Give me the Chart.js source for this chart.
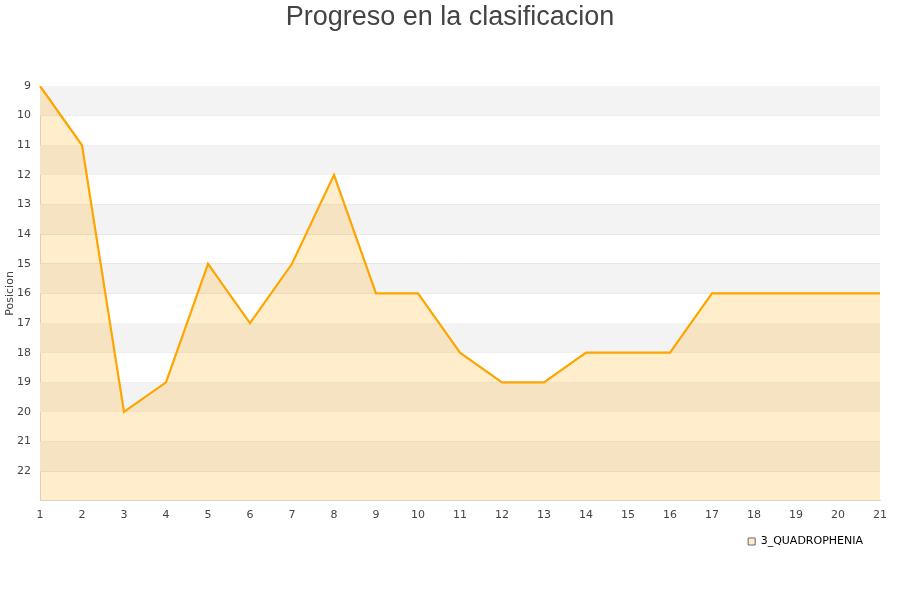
<!DOCTYPE html>
<html lang="es">
<head>
    <meta charset="UTF-8">
    <script src="https://cdn.jsdelivr.net/npm/chart.js"></script>
    <title>Progreso en la clasificacion</title>
    <style>
        body {
            margin: 0;
            background-color: #fff;
        }

        #wrap {
            width: 900px;
            height: 600px;
        }
    </style>
</head>
<body>
    <div id="wrap">
        <canvas id="progresoChart" width="900" height="600"></canvas>
    </div>

    <script>
        // Datos
        const jornadas = ['1', '2', '3', '4', '5', '6', '7', '8', '9', '10', '11',
                          '12', '13', '14', '15', '16', '17', '18', '19', '20', '21'];
        const posiciones = [9, 11, 20, 19, 15, 17, 15, 12, 16, 16, 18,
                            19, 19, 18, 18, 18, 16, 16, 16, 16, 16];
        const equipo = '3_QUADROPHENIA';
        const titulo = 'Progreso en la clasificacion';
        const posMin = 9;
        const posMax = 23;

        // bandas grises alternas detras de la serie
        const bandas = {
            id: 'bandas',
            beforeDatasetsDraw(chart) {
                const ctx = chart.ctx;
                const y = chart.scales.y;
                const area = chart.chartArea;
                ctx.save();
                for (let v = posMin; v < posMax; v += 2) {
                    const y1 = y.getPixelForValue(v);
                    const y2 = y.getPixelForValue(v + 1);
                    ctx.fillStyle = '#f3f3f3';
                    ctx.fillRect(area.left, y1, area.right - area.left, y2 - y1);
                }
                ctx.restore();
            }
        };

        // titulo centrado en todo el canvas + leyenda un poco a la izquierda
        const ajustes = {
            id: 'ajustes',
            afterLayout(chart) {
                chart.legend.right -= 11;
            },
            afterDraw(chart) {
                const ctx = chart.ctx;
                ctx.save();
                ctx.font = '27px "Liberation Sans", Arial, sans-serif';
                ctx.fillStyle = '#444';
                ctx.textAlign = 'center';
                ctx.textBaseline = 'middle';
                ctx.fillText(titulo, chart.width / 2, 18);
                ctx.restore();
            }
        };

        const ctx = document.getElementById('progresoChart').getContext('2d');
        const chart = new Chart(ctx, {
            type: 'line',
            data: {
                labels: jornadas,
                datasets: [{
                    label: equipo,
                    data: posiciones,
                    borderColor: '#ffa500',
                    backgroundColor: 'rgba(255, 165, 0, 0.2)',
                    borderWidth: 2.2,
                    pointRadius: 0,
                    tension: 0,
                    fill: 'start'
                }]
            },
            options: {
                responsive: false,
                animation: false,
                layout: {
                    padding: { left: 0, right: 20, top: 86, bottom: 43 }
                },
                plugins: {
                    title: { display: false },
                    legend: {
                        position: 'bottom',
                        align: 'end',
                        labels: {
                            color: '#000',
                            boxWidth: 7,
                            boxHeight: 7,
                            font: { family: 'DejaVu Sans, sans-serif', size: 11 },
                            padding: 6,
                            generateLabels: (chart) => chart.data.datasets.map((ds, i) => ({
                                text: ds.label,
                                fillStyle: '#ffedcc',
                                strokeStyle: '#666',
                                lineWidth: 1,
                                fontColor: '#000',
                                datasetIndex: i
                            }))
                        }
                    },
                    tooltip: { enabled: false }
                },
                scales: {
                    x: {
                        offset: false,
                        grid: { display: false, drawTicks: false },
                        border: { color: '#d8d8d8' },
                        ticks: {
                            color: '#444',
                            padding: 8,
                            maxRotation: 0,
                            font: { family: 'DejaVu Sans, sans-serif', size: 11 }
                        }
                    },
                    y: {
                        reverse: true,
                        min: posMin,
                        max: posMax,
                        afterFit: (scale) => { scale.width = 40; },
                        grid: { color: '#e4e4e4', drawTicks: false },
                        border: { color: '#d8d8d8' },
                        title: {
                            display: true,
                            text: 'Posicion',
                            color: '#444',
                            padding: { top: 4, bottom: 0 },
                            font: { family: 'DejaVu Sans, sans-serif', size: 11 }
                        },
                        ticks: {
                            stepSize: 1,
                            color: '#444',
                            padding: 9,
                            font: { family: 'DejaVu Sans, sans-serif', size: 11 },
                            callback: (v) => v === posMax ? '' : v
                        }
                    }
                }
            },
            plugins: [bandas, ajustes]
        });
    </script>
</body>
</html>
